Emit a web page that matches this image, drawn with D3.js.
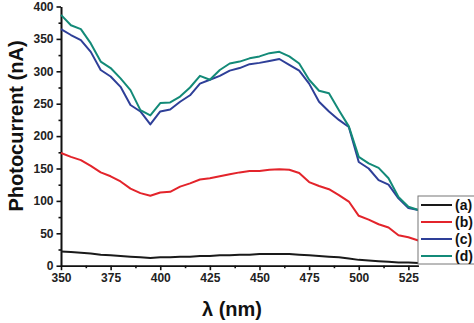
<!DOCTYPE html>
<html>
<head>
<meta charset="utf-8">
<script src="https://cdn.jsdelivr.net/npm/d3@7"></script>
<style>
	body { margin: 0; background: #fff; overflow: hidden; }
	svg { display: block; font-family: "Liberation Sans", Arial, sans-serif; }
	.axis text { font-size: 12px; font-weight: bold; fill: #222; }
	.axis path, .axis line { stroke: #111; stroke-width: 1.6; }
	.line { fill: none; stroke-width: 2; stroke-linejoin: round; }
</style>
</head>
<body>
<script>
// wavelengths in nm, every 5 nm
var wavelengths = [350, 355, 360, 365, 370, 375, 380, 385, 390, 395, 400, 405, 410, 415, 420, 425, 430, 435, 440,
	445, 450, 455, 460, 465, 470, 475, 480, 485, 490, 495, 500, 505, 510, 515, 520, 525, 530];

// photocurrent in nA
var series_a = [22, 21, 20, 19, 17, 16, 15, 14, 13, 12, 13, 13, 14, 14, 15, 15, 16, 16, 17,
	17, 18, 18, 18, 18, 17, 16, 15, 14, 13, 11, 9, 8, 7, 6, 5, 5, 4];
var series_b = [174, 168, 163, 154, 144, 138, 130, 119, 112, 108, 113, 114, 122, 127, 133, 135, 138, 141, 144,
	146, 146, 148, 149, 148, 143, 129, 123, 118, 109, 99, 77, 71, 64, 59, 47, 44, 39];
var series_c = [365, 356, 348, 330, 302, 292, 276, 248, 238, 218, 238, 241, 253, 263, 281, 287, 293, 301, 305,
	311, 313, 316, 319, 310, 301, 281, 253, 238, 225, 214, 160, 150, 132, 125, 104, 89, 86];
var series_d = [387, 371, 365, 343, 315, 305, 289, 271, 240, 232, 251, 252, 261, 275, 293, 287, 302, 312, 315,
	320, 323, 328, 330, 323, 312, 287, 270, 266, 240, 215, 168, 158, 151, 135, 106, 91, 86];

var legend_title = ["(a)", "(b)", "(c)", "(d)"];
var legend_color = ["#1a1a1a", "#e3242b", "#2e3f98", "#138a78"];

var x_ticks = [350, 375, 400, 425, 450, 475, 500, 525];
var y_ticks = [0, 50, 100, 150, 200, 250, 300, 350, 400];

var width = 474, height = 323;
var svg = d3.select("body").append("svg")
	.attr("width", width)
	.attr("height", height);

// set the ranges
var x = d3.scaleLinear().domain([350, 530]).range([61, 418.3]);
var y = d3.scaleLinear().domain([0, 400]).range([265.7, 6.5]);

// minor ticks halfway between the major ones
var x_minor = d3.range(362.5, 530, 25);
var y_minor = d3.range(25, 400, 50);

svg.append("g")
	.attr("class", "axis")
	.attr("transform", "translate(0," + y(0) + ")")
	.call(d3.axisBottom(x).tickValues(x_minor).tickFormat("").tickSize(2.5).tickSizeOuter(0));

svg.append("g")
	.attr("class", "axis")
	.attr("transform", "translate(" + x(350) + ",0)")
	.call(d3.axisLeft(y).tickValues(y_minor).tickFormat("").tickSize(2.5).tickSizeOuter(0));

svg.append("g")
	.attr("class", "axis")
	.attr("transform", "translate(0," + y(0) + ")")
	.call(d3.axisBottom(x).tickValues(x_ticks).tickSize(4.5).tickSizeOuter(0).tickPadding(3));

svg.append("g")
	.attr("class", "axis")
	.attr("transform", "translate(" + x(350) + ",0)")
	.call(d3.axisLeft(y).tickValues(y_ticks).tickSize(4.5).tickSizeOuter(0).tickPadding(3));

// the four curves
var all_series = [series_a, series_b, series_c, series_d];
var line = d3.line()
	.x(function(d, i) { return x(wavelengths[i]); })
	.y(function(d) { return y(d); });

for (var i = 0; i < all_series.length; i++) {
	svg.append("path")
		.datum(all_series[i])
		.attr("class", "line")
		.attr("d", line)
		.attr("stroke", legend_color[i]);
}

// axis labels
svg.append("text")
	.attr("transform", "translate(23," + 126 + ") rotate(-90)")
	.attr("text-anchor", "middle")
	.attr("font-size", 20)
	.attr("font-weight", "bold")
	.attr("fill", "#111")
	.text("Photocurrent (nA)");

svg.append("text")
	.attr("x", 232)
	.attr("y", 316)
	.attr("text-anchor", "middle")
	.attr("font-size", 20)
	.attr("font-weight", "bold")
	.attr("fill", "#111")
	.text("λ (nm)");

// legend box, sitting on top of the right end of the plot
var legend = svg.append("g").attr("transform", "translate(418,196)");
legend.append("rect")
	.attr("x", 0)
	.attr("y", 0)
	.attr("width", 70)
	.attr("height", 68)
	.attr("fill", "#fff")
	.attr("stroke", "#777")
	.attr("stroke-width", 1);

for (var i = 0; i < legend_title.length; i++) {
	var ly = 9 + 17 * i;
	legend.append("line")
		.attr("x1", 3)
		.attr("x2", 34)
		.attr("y1", ly)
		.attr("y2", ly)
		.attr("stroke", legend_color[i])
		.attr("stroke-width", 2);
	legend.append("text")
		.attr("x", 37)
		.attr("y", ly + 5)
		.attr("font-size", 14)
		.attr("font-weight", "bold")
		.attr("fill", "#111")
		.text(legend_title[i]);
}
</script>
</body>
</html>
